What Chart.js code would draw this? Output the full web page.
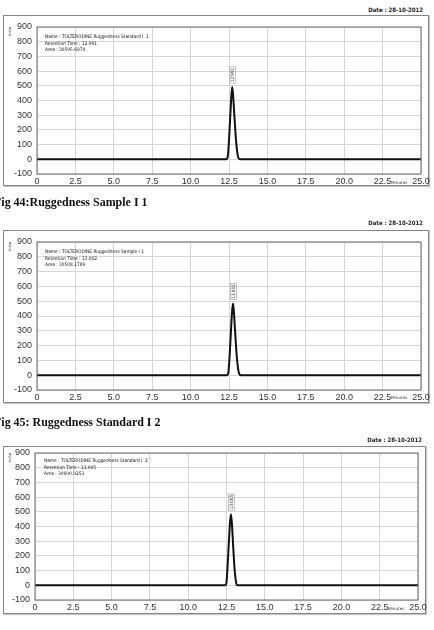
<!DOCTYPE html>
<html>
<head>
<meta charset="utf-8">
<script src="https://cdn.jsdelivr.net/npm/chart.js"></script>
<style>
  body { margin: 0; width: 434px; height: 630px; background: #fff; position: relative; overflow: hidden; }
  .box { position: absolute; border: 1.5px solid #858585; box-shadow: 1px 1px 1px #c8c8c8; box-sizing: border-box; }
  canvas { position: absolute; left: 0; }
  .date { position: absolute; right: 11px; font: bold 6px "DejaVu Sans Condensed", "DejaVu Sans", sans-serif; color: #222; }
  .cap { position: absolute; left: -6px; font: bold 13px "Liberation Serif", serif; color: #111; white-space: nowrap; transform: scaleX(0.92); transform-origin: left top; }
  .info { position: absolute; font: 4.8px "DejaVu Sans Condensed", "DejaVu Sans", sans-serif; color: #111; line-height: 6.5px; white-space: nowrap; }
  .mau { position: absolute; font: 4px "DejaVu Sans", sans-serif; color: #444; transform: rotate(-90deg); transform-origin: left top; }
  .mins { position: absolute; font: 4.2px "DejaVu Sans", sans-serif; color: #333; }
</style>
</head>
<body>

<div class="date" style="top:6px">Date : 28-10-2012</div>
<div class="box" style="left:3px;top:15px;width:426px;height:171px"></div>
<canvas id="c1" width="434" height="171" style="top:15px"></canvas>
<div class="info" style="left:45px;top:34px">Name : TOLTERODINE Ruggedness Standard I &nbsp;1<br>Retention Time : 12.991<br>Area : 30595.6978</div>
<div class="mau" style="left:7px;top:36px">mAu</div>
<div class="mins" style="left:391px;top:180px">Minutes</div>
<div class="cap" style="top:194px">Fig 44:Ruggedness Sample I 1</div>

<div class="date" style="top:219px">Date : 28-10-2012</div>
<div class="box" style="left:3px;top:230px;width:426px;height:173px"></div>
<canvas id="c2" width="434" height="173" style="top:230px"></canvas>
<div class="info" style="left:45px;top:249px">Name : TOLTERODINE Ruggedness Sample I 1<br>Retention Time : 13.002<br>Area : 30508.1789</div>
<div class="mau" style="left:7px;top:251px">mAu</div>
<div class="mins" style="left:391px;top:395px">Minutes</div>
<div class="cap" style="top:414px">Fig 45: Ruggedness Standard I 2</div>

<div class="date" style="top:436px;right:12px">Date : 28-10-2012</div>
<div class="box" style="left:3px;top:446px;width:423px;height:168px"></div>
<canvas id="c3" width="434" height="168" style="top:446px"></canvas>
<div class="info" style="left:44px;top:458px">Name : TOLTERODINE Ruggedness Standard I &nbsp;2<br>Retention Time : 13.005<br>Area : 30600.9253</div>
<div class="mau" style="left:7px;top:462px">mAu</div>
<div class="mins" style="left:388px;top:606px">Minutes</div>

<script>
// retention time axis (minutes) and detector response (mAu)
const xTicks = [0, 2.5, 5, 7.5, 10, 12.5, 15, 17.5, 20, 22.5, 25];
const yTicks = [-100, 0, 100, 200, 300, 400, 500, 600, 700, 800, 900];

const timesStd1 = [0, 12.32, 12.42, 12.50, 12.58, 12.66, 12.71, 12.77, 12.86, 12.95, 13.04, 13.12, 13.22, 25];
const valuesStd1 = [0, 0, 20, 130, 290, 440, 491, 430, 280, 140, 45, 8, 0, 0];
const peakStd1 = "12.991";

const timesSample1 = [0, 12.36, 12.46, 12.54, 12.62, 12.70, 12.76, 12.82, 12.91, 13.00, 13.09, 13.17, 13.27, 25];
const valuesSample1 = [0, 0, 20, 130, 285, 430, 484, 425, 275, 135, 45, 8, 0, 0];
const peakSample1 = "13.002";

const timesStd2 = [0, 12.42, 12.50, 12.57, 12.65, 12.73, 12.79, 12.85, 12.93, 13.01, 13.09, 13.15, 13.24, 25];
const valuesStd2 = [0, 0, 20, 130, 285, 430, 484, 425, 275, 135, 45, 8, 0, 0];
const peakStd2 = "13.005";

// draws the plot frame and the rotated retention-time tag over the peak
const framePlugin = {
  id: 'frame',
  afterDraw(chart) {
    const { ctx, chartArea } = chart;
    ctx.save();
    ctx.strokeStyle = '#6a6a6a';
    ctx.lineWidth = 1;
    ctx.strokeRect(chartArea.left, chartArea.top, chartArea.right - chartArea.left, chartArea.bottom - chartArea.top);
    ctx.restore();
  }
};
const peakTagPlugin = {
  id: 'peakTag',
  afterDatasetsDraw(chart, args, opts) {
    const meta = chart.getDatasetMeta(0);
    const data = chart.data.datasets[0].data;
    let best = 0;
    data.forEach((d, i) => { if (d.y > data[best].y) best = i; });
    const pt = meta.data[best];
    const ctx = chart.ctx;
    ctx.save();
    ctx.translate(pt.x + 0.5, pt.y - 4);
    ctx.rotate(-Math.PI / 2);
    ctx.font = '4.5px "DejaVu Sans Condensed", sans-serif';
    const w = ctx.measureText(opts.text).width + 2;
    ctx.strokeStyle = '#999';
    ctx.lineWidth = 0.6;
    ctx.strokeRect(0, -2.8, w, 5.6);
    ctx.fillStyle = '#222';
    ctx.textBaseline = 'middle';
    ctx.fillText(opts.text, 1, 0);
    ctx.restore();
  }
};

function makeChart(id, times, values, tag, lay) {
  const points = times.map((t, i) => ({ x: t, y: values[i] }));
  return new Chart(document.getElementById(id), {
    type: 'line',
    data: {
      datasets: [{
        data: points,
        borderColor: '#111',
        borderWidth: 2,
        pointRadius: 0,
        cubicInterpolationMode: 'monotone',
        fill: false
      }]
    },
    options: {
      responsive: false,
      animation: false,
      events: [],
      layout: { padding: { top: lay.top, left: 0, right: lay.right, bottom: lay.bottom } },
      plugins: { legend: { display: false }, tooltip: { enabled: false }, peakTag: { text: tag } },
      scales: {
        x: {
          type: 'linear', min: 0, max: 25,
          afterBuildTicks: s => { s.ticks = xTicks.map(v => ({ value: v })); },
          afterFit: s => { s.height = lay.xh; s.paddingLeft = 0; s.paddingRight = 0; },
          grid: { color: '#d6d6d6', lineWidth: 1, drawTicks: false },
          border: { display: false },
          ticks: {
            padding: 2, color: '#333', font: { family: 'Liberation Sans', size: 9 },
            maxRotation: 0, autoSkip: false,
            callback: v => v === 0 ? '0' : v.toFixed(1)
          }
        },
        y: {
          min: -100, max: 900,
          afterBuildTicks: s => { s.ticks = yTicks.map(v => ({ value: v })); },
          afterFit: s => { s.width = lay.left; s.paddingTop = 0; s.paddingBottom = 0; },
          grid: { color: '#d6d6d6', lineWidth: 1, drawTicks: false },
          border: { display: false },
          ticks: { padding: 5, color: '#333', font: { family: 'Liberation Sans', size: 9 } }
        }
      }
    },
    plugins: [framePlugin, peakTagPlugin]
  });
}

makeChart('c1', timesStd1, valuesStd1, peakStd1, { top: 12, left: 37, right: 13, bottom: 1, xh: 11 });
makeChart('c2', timesSample1, valuesSample1, peakSample1, { top: 12, left: 37, right: 13, bottom: 1, xh: 12 });
makeChart('c3', timesStd2, valuesStd2, peakStd2, { top: 7, left: 35, right: 16, bottom: 1, xh: 13 });
</script>
</body>
</html>
